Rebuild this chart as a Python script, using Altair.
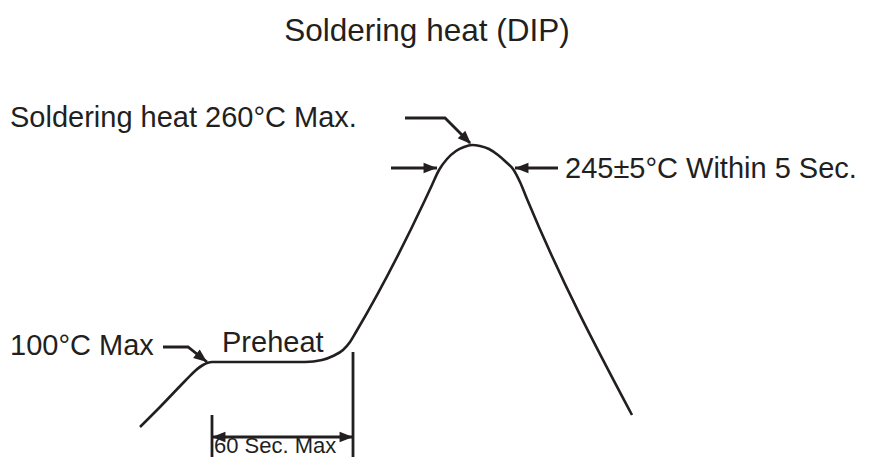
import altair as alt
import pandas as pd

# Temperature profile (schematic, page-like coordinates: x = time axis, y = downward)
curve_x = [140, 160, 185, 195, 203, 212, 260, 305, 322, 333, 343, 350, 356, 425, 432, 439,
           447, 456, 464, 472, 480, 489, 498, 506, 513, 520, 527, 632]
curve_y = [427, 407, 381, 371, 365, 362, 362, 362, 360, 356, 350, 342, 332, 200, 185, 170,
           159, 151, 147, 145, 146, 149, 155, 162, 169, 182, 199, 415]

# Arrow shafts / guide lines: id, x, y
seg_id = ["peak", "peak", "peak", "left", "left", "right", "right",
          "pre", "pre", "pre", "dim", "dim", "v1", "v1", "v2", "v2"]
seg_x = [405, 445, 470, 391, 437, 558, 515, 163, 188, 207, 212, 353, 212, 212, 353, 353]
seg_y = [118, 118, 143, 168, 168, 168, 168, 347, 347, 362, 437, 437, 415, 470, 352, 470]
seg_order = [0, 1, 2, 0, 1, 0, 1, 0, 1, 2, 0, 1, 0, 1, 0, 1]

# Arrow heads: tip position and pointing angle
head_x = [471, 437, 515, 207, 212, 353]
head_y = [144, 168, 168, 362, 437, 437]
head_angle = [135, 90, 270, 128, 270, 90]

# Labels
label_text = ["Soldering heat (DIP)", "Soldering heat 260°C Max.", "245±5°C Within 5 Sec.",
              "100°C Max", "Preheat", "60 Sec. Max"]
label_x = [427, 10, 565, 10, 222, 214]
label_y = [41, 127, 178, 355, 352, 453]
label_size = [31.5, 29, 29, 29, 29, 22]
label_align = ["center", "left", "left", "left", "left", "left"]

INK = "#231f20"

xs = alt.Scale(domain=[8, 863])
ys = alt.Scale(domain=[8, 457], reverse=True)

curve_df = pd.DataFrame({"x": curve_x, "y": curve_y})
seg_df = pd.DataFrame({"id": seg_id, "x": seg_x, "y": seg_y, "o": seg_order})
head_df = pd.DataFrame({"x": head_x, "y": head_y, "a": head_angle})
lab_df = pd.DataFrame({"t": label_text, "x": label_x, "y": label_y,
                       "s": label_size, "al": label_align})

curve = alt.Chart(curve_df).mark_line(
    interpolate="monotone", color=INK, strokeWidth=2.6
).encode(
    x=alt.X("x:Q", scale=xs, axis=None),
    y=alt.Y("y:Q", scale=ys, axis=None),
)

segs = alt.Chart(seg_df).mark_line(color=INK, strokeWidth=2.8).encode(
    x=alt.X("x:Q", scale=xs, axis=None),
    y=alt.Y("y:Q", scale=ys, axis=None),
    detail="id:N",
    order="o:Q",
)

heads = alt.Chart(head_df).mark_point(
    shape="M0,0 L-0.8,2 L0.8,2 Z", filled=True, color=INK, opacity=1, size=180
).encode(
    x=alt.X("x:Q", scale=xs, axis=None),
    y=alt.Y("y:Q", scale=ys, axis=None),
    angle=alt.Angle("a:Q", scale=None),
)

layers = [curve, segs, heads]
for i in range(len(label_text)):
    sub = lab_df.iloc[[i]]
    layers.append(
        alt.Chart(sub).mark_text(
            align=label_align[i], baseline="alphabetic", font="Liberation Sans",
            fontSize=label_size[i], color=INK
        ).encode(
            x=alt.X("x:Q", scale=xs, axis=None),
            y=alt.Y("y:Q", scale=ys, axis=None),
            text="t:N",
        )
    )

chart = alt.layer(*layers).properties(
    width=855, height=449,
    autosize=alt.AutoSizeParams(type="none"),
    padding=0,
    background="white",
).configure_view(stroke=None)

chart.save("out.html", embed_options={"renderer": "svg", "actions": False})
